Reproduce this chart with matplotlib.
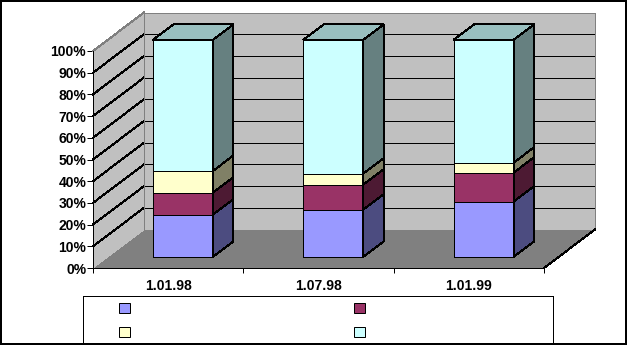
import numpy as np
import matplotlib
matplotlib.use("Agg")
import matplotlib.pyplot as plt
from matplotlib.patches import Polygon, Rectangle, Patch
from matplotlib.lines import Line2D
from matplotlib.transforms import IdentityTransform
from matplotlib.ticker import FuncFormatter

# ---- data -------------------------------------------------------------
categories = ['1.01.98', '1.07.98', '1.01.99']
series_a = [19.5, 21.8, 25.5]
series_b = [10.1, 11.5, 13.3]
series_c = [10.0, 5.1, 4.6]
series_d = [60.4, 61.6, 56.6]
series_names = ['', '', '', '']

front_colors = ['#9999FF', '#993366', '#FFFFCC', '#CCFFFF']
side_colors = ['#4C4C80', '#4D1A33', '#808066', '#668080']
top_colors = ['#7373BF', '#73264D', '#BFBF99', '#99BFBF']

plt.rcParams['font.family'] = ['Liberation Sans', 'DejaVu Sans']

W, H, DPI = 627, 345, 100
fig = plt.figure(figsize=(W / DPI, H / DPI), dpi=DPI)
fig.patch.set_facecolor('white')

# front plane of the 3-D box, in pixels
x_left, x_right, y_top, y_bot = 93, 544, 51, 268
ax = fig.add_axes([x_left / W, (H - y_bot) / H,
                   (x_right - x_left) / W, (y_bot - y_top) / H])
ax.set_xlim(0, len(categories))
ax.set_ylim(0, 100)
ax.patch.set_visible(False)

# depth vector of the box (pixels, right/up)
DX, DY = 51.0, 38.5
PX = 0.72  # one pixel in points


def P(x, y, d):
    px, py = ax.transData.transform((x, y))
    return (px + d * DX, py + d * DY)


def face(pts, fc, ec='none', lw=PX, z=1):
    poly = Polygon([P(*p) for p in pts], closed=True, facecolor=fc,
                   edgecolor=ec, linewidth=lw, transform=IdentityTransform(),
                   clip_on=False, zorder=z, antialiased=False)
    ax.add_patch(poly)


def seg(p0, p1, color, z=2, lw=PX):
    a, b = P(*p0), P(*p1)
    ax.add_line(Line2D([a[0], b[0]], [a[1], b[1]], color=color, linewidth=lw,
                       transform=IdentityTransform(), clip_on=False,
                       zorder=z, antialiased=False))


n = len(categories)
# walls and floor
face([(0, 0, 0), (n, 0, 0), (n, 0, 1), (0, 0, 1)], '#808080', z=1)
face([(0, 0, 0), (0, 100, 0), (0, 100, 1), (0, 0, 1)], '#C0C0C0', z=1)
face([(0, 0, 1), (n, 0, 1), (n, 100, 1), (0, 100, 1)], '#C0C0C0', z=1)

# gridlines on side and back walls
for v in range(10, 100, 10):
    seg((0, v, 0), (0, v, 1), 'black')
    seg((0, v, 1), (n, v, 1), 'black')

# wall outlines
seg((0, 100, 0), (0, 100, 1), '#808080')
seg((0, 100, 1), (n, 100, 1), '#808080')
seg((n, 100, 1), (n, 0, 1), '#808080')
seg((0, 100, 1), (0, 0, 1), '#808080')
seg((n, 0, 0), (n, 0, 1), 'black')

# stacked 100% columns
series = [series_a, series_b, series_c, series_d]
bar_w = 0.4
d0, d1 = 0.29, 0.69
for i in range(n):
    total = sum(s[i] for s in series)
    xc = i + 0.5
    xa, xb = xc - bar_w / 2, xc + bar_w / 2
    base = 0.0
    for k, s in enumerate(series):
        top = base + 100.0 * s[i] / total
        face([(xa, base, d0), (xb, base, d0), (xb, top, d0), (xa, top, d0)],
             front_colors[k], ec='black', z=3)
        face([(xb, base, d0), (xb, base, d1), (xb, top, d1), (xb, top, d0)],
             side_colors[k], ec='black', z=3)
        base = top
    face([(xa, 100, d0), (xb, 100, d0), (xb, 100, d1), (xa, 100, d1)],
         top_colors[-1], ec='black', z=3)

# axes: spines, ticks, labels
for sp in ['top', 'right']:
    ax.spines[sp].set_visible(False)
for sp in ['left', 'bottom']:
    ax.spines[sp].set_color('black')
    ax.spines[sp].set_linewidth(PX)

ax.set_yticks(np.arange(0, 101, 10))
ax.yaxis.set_major_formatter(FuncFormatter(lambda v, _: f"{int(round(v))}%"))
ax.tick_params(axis='y', direction='out', length=6 * PX, width=PX, pad=0.6,
               labelsize=10, colors='black')
for t in ax.get_yticklabels():
    t.set_fontweight('bold')

ax.set_xticks(np.arange(0, n + 1, 1))
ax.set_xticklabels([])
ax.set_xticks(np.arange(n) + 0.5, minor=True)
ax.set_xticklabels(categories, minor=True, fontsize=10, fontweight='bold')
ax.tick_params(axis='x', which='major', direction='out', length=5 * PX,
               width=PX)
ax.tick_params(axis='x', which='minor', length=0, pad=8)

# legend box and entries (two rows, filled row by row)
fig.add_artist(Rectangle((82.5, 0.5), 552.5 - 82.5, H - 295.5 - 0.5,
                         transform=IdentityTransform(), facecolor='white',
                         edgecolor='black', linewidth=PX, zorder=0.5,
                         antialiased=False))
handles = [Patch(facecolor=c, edgecolor='black', linewidth=PX)
           for c in front_colors]
order = [0, 2, 1, 3]
fs_px = 10 / 72 * DPI
fig.legend([handles[j] for j in order], [series_names[j] for j in order],
           ncol=2, frameon=False, fontsize=10,
           handlelength=11 / fs_px, handleheight=11 / fs_px,
           handletextpad=0, columnspacing=(235 - 11) / fs_px,
           labelspacing=0.7, borderpad=0, borderaxespad=0,
           loc='upper left',
           bbox_to_anchor=(119.3 / W, 1 - 302.0 / H))

# outer frame
fig.add_artist(Rectangle((0.5, 1.0), W - 1.5, H - 2.0,
                         transform=IdentityTransform(), facecolor='none',
                         edgecolor='black', linewidth=1.5 * PX, zorder=10,
                         antialiased=False))

fig.savefig('out.png', dpi=DPI)
